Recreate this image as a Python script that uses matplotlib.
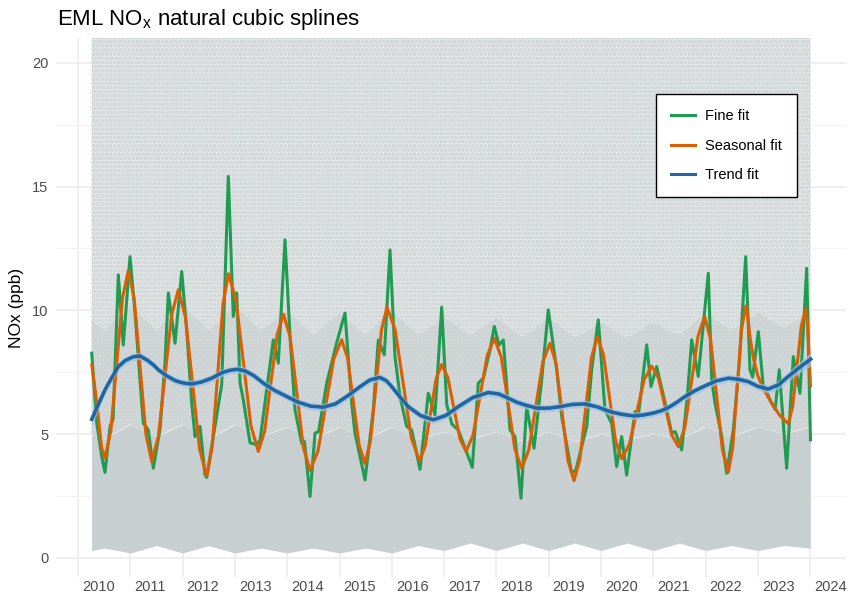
import matplotlib
matplotlib.use("Agg")
import matplotlib.pyplot as plt
import matplotlib.transforms as mtransforms
from matplotlib.lines import Line2D

plt.rcParams['font.family'] = ['Liberation Sans', 'DejaVu Sans']
plt.rcParams['mathtext.fontset'] = 'custom'
plt.rcParams['mathtext.rm'] = 'Liberation Sans'
plt.rcParams['hatch.linewidth'] = 2.0

# gray cloud of hourly data (envelope)
cloud_t = [2010.26, 2010.5, 2011.0, 2011.5, 2012.0, 2012.5, 2013.0, 2013.5, 2014.0, 2014.5,
           2015.0, 2015.5, 2016.0, 2016.5, 2017.0, 2017.5, 2018.0, 2018.5, 2019.0, 2019.5,
           2020.0, 2020.5, 2021.0, 2021.5, 2022.0, 2022.5, 2023.0, 2023.5, 2024.0]
cloud_low = [0.3, 0.4, 0.2, 0.5, 0.2, 0.5, 0.2, 0.4, 0.2, 0.4,
             0.2, 0.4, 0.2, 0.5, 0.3, 0.6, 0.3, 0.6, 0.3, 0.6,
             0.3, 0.6, 0.3, 0.6, 0.3, 0.5, 0.3, 0.5, 0.4]
cloud_dense = [5.0, 4.8, 5.4, 4.9, 5.4, 4.8, 5.4, 4.9, 5.3, 4.8,
               5.3, 4.8, 5.3, 4.8, 5.1, 4.8, 5.1, 4.7, 5.1, 4.7,
               5.0, 4.8, 5.0, 4.8, 5.3, 4.9, 5.3, 5.0, 5.3]
cloud_mid = [9.6, 9.2, 10.2, 9.2, 10.2, 9.2, 10.2, 9.2, 10.0, 9.0,
             9.9, 9.0, 10.0, 9.0, 9.7, 9.0, 9.7, 8.9, 9.7, 8.9,
             9.5, 8.9, 9.5, 9.0, 9.9, 9.2, 9.9, 9.3, 9.9]

# Fine fit
fine_t = [2010.262, 2010.358, 2010.453, 2010.516, 2010.612, 2010.670, 2010.771, 2010.866, 2010.994,
          2011.090, 2011.185, 2011.249, 2011.344, 2011.440, 2011.568, 2011.663, 2011.727, 2011.855, 2011.983,
          2012.078, 2012.174, 2012.237, 2012.333, 2012.428, 2012.461, 2012.587, 2012.748, 2012.874, 2012.969,
          2013.034, 2013.098, 2013.161, 2013.289, 2013.417, 2013.480, 2013.734, 2013.830, 2013.958,
          2014.054, 2014.149, 2014.277, 2014.330, 2014.436, 2014.532, 2014.600, 2014.755, 2014.946,
          2015.105, 2015.233, 2015.296, 2015.488, 2015.646, 2015.742, 2015.857, 2015.966,
          2016.061, 2016.157, 2016.285, 2016.380, 2016.539, 2016.698, 2016.826, 2016.954,
          2017.050, 2017.150, 2017.271, 2017.367, 2017.539, 2017.654, 2017.750, 2017.878, 2017.960,
          2018.050, 2018.132, 2018.260, 2018.356, 2018.470, 2018.579, 2018.719, 2018.866, 2018.992,
          2019.153, 2019.249, 2019.440, 2019.520, 2019.727, 2019.822, 2019.948,
          2020.076, 2020.204, 2020.300, 2020.396, 2020.491, 2020.650, 2020.713, 2020.874, 2020.956,
          2021.065, 2021.243, 2021.352, 2021.420, 2021.543, 2021.650, 2021.734, 2021.860,
          2022.052, 2022.117, 2022.180, 2022.300, 2022.403, 2022.530, 2022.650, 2022.767, 2022.849, 2022.900,
          2023.008, 2023.100, 2023.264, 2023.330, 2023.409, 2023.551, 2023.677, 2023.805, 2023.933, 2024.006]
fine_v = [8.27, 5.45, 4.10, 3.45, 5.30, 5.60, 11.43, 8.60, 12.17,
          9.90, 7.19, 5.44, 5.17, 3.62, 5.20, 7.87, 10.70, 8.67, 11.57,
          9.21, 6.25, 4.90, 5.31, 3.35, 3.25, 4.90, 7.00, 15.41, 9.75,
          10.70, 7.07, 6.38, 4.65, 4.57, 4.75, 8.81, 7.87, 12.85,
          8.94, 5.98, 4.63, 4.70, 2.48, 5.04, 5.10, 7.06, 8.69,
          9.89, 6.25, 5.04, 3.15, 5.98, 8.80, 8.20, 12.44,
          8.13, 6.52, 5.31, 5.17, 3.58, 6.65, 5.78, 10.13,
          6.20, 5.40, 5.17, 4.63, 3.66, 7.06, 7.26, 8.40, 9.35,
          8.60, 8.80, 5.17, 4.90, 2.41, 6.11, 4.43, 7.19, 10.02,
          7.60, 5.71, 3.42, 3.55, 5.31, 7.60, 9.62,
          5.98, 5.44, 3.69, 4.90, 3.35, 5.91, 5.71, 8.61, 6.92,
          7.73, 6.11, 5.04, 5.10, 4.36, 6.50, 8.81, 7.33,
          11.50, 7.19, 6.25, 5.00, 3.42, 5.17, 8.00, 12.17, 7.60, 7.30,
          9.14, 7.00, 6.25, 6.00, 7.60, 3.62, 8.13, 6.65, 11.70, 4.77]

# Seasonal fit
seas_t = [2010.262, 2010.330, 2010.390, 2010.450, 2010.516, 2010.628, 2010.739, 2010.851, 2010.962,
          2011.074, 2011.186, 2011.297, 2011.409, 2011.536, 2011.664, 2011.791, 2011.918,
          2012.054, 2012.190, 2012.325, 2012.461, 2012.565, 2012.670, 2012.774, 2012.878,
          2013.020, 2013.163, 2013.305, 2013.447, 2013.568, 2013.688, 2013.809, 2013.929,
          2014.056, 2014.183, 2014.309, 2014.436, 2014.588, 2014.739, 2014.891, 2015.042,
          2015.154, 2015.265, 2015.377, 2015.488, 2015.593, 2015.698, 2015.803, 2015.908,
          2016.064, 2016.219, 2016.375, 2016.530, 2016.636, 2016.742, 2016.848, 2016.954,
          2017.070, 2017.187, 2017.303, 2017.419, 2017.555, 2017.692, 2017.828, 2017.964,
          2018.094, 2018.224, 2018.354, 2018.484, 2018.619, 2018.755, 2018.890, 2019.025,
          2019.140, 2019.255, 2019.369, 2019.484, 2019.595, 2019.707, 2019.818, 2019.929,
          2020.046, 2020.163, 2020.279, 2020.396, 2020.539, 2020.683, 2020.826, 2020.969,
          2021.096, 2021.224, 2021.351, 2021.478, 2021.604, 2021.731, 2021.857, 2021.983,
          2022.096, 2022.209, 2022.321, 2022.434, 2022.518, 2022.602, 2022.685, 2022.769,
          2022.800, 2022.850, 2022.920, 2023.000, 2023.100, 2023.250, 2023.420, 2023.581,
          2023.664, 2023.748, 2023.831, 2023.914, 2023.945, 2023.975, 2024.006]
seas_v = [7.80, 6.75, 5.65, 4.45, 4.03, 5.14, 7.82, 10.50, 11.61,
          10.48, 7.75, 5.02, 3.89, 4.90, 7.36, 9.82, 10.83,
          9.73, 7.06, 4.39, 3.29, 4.49, 7.39, 10.28, 11.48,
          10.43, 7.89, 5.35, 4.30, 5.11, 7.07, 9.03, 9.84,
          8.92, 6.69, 4.46, 3.54, 4.31, 6.18, 8.04, 8.81,
          8.08, 6.31, 4.54, 3.81, 4.73, 6.97, 9.21, 10.13,
          9.22, 7.03, 4.83, 3.92, 4.49, 5.87, 7.24, 7.81,
          7.30, 6.06, 4.81, 4.30, 4.97, 6.59, 8.20, 8.87,
          8.10, 6.25, 4.39, 3.62, 4.36, 6.15, 7.93, 8.67,
          7.86, 5.90, 3.93, 3.12, 3.97, 6.03, 8.09, 8.94,
          8.22, 6.48, 4.73, 4.01, 4.56, 5.88, 7.20, 7.75,
          7.28, 6.13, 4.97, 4.50, 5.27, 7.12, 8.97, 9.74,
          8.82, 6.60, 4.38, 3.46, 4.44, 6.82, 9.20, 10.18,
          9.90, 8.90, 8.00, 7.35, 6.85, 6.30, 5.75, 5.42,
          6.10, 7.74, 9.37, 10.05, 9.50, 8.40, 6.95]

# Trend fit with its band
trend_t = [2010.262, 2010.400, 2010.516, 2010.650, 2010.771, 2010.900, 2011.050, 2011.185, 2011.330,
           2011.450, 2011.535, 2011.700, 2011.850, 2011.918, 2012.050, 2012.174, 2012.350, 2012.556,
           2012.750, 2012.906, 2013.050, 2013.200, 2013.370, 2013.543, 2013.750, 2013.990, 2014.200,
           2014.450, 2014.690, 2014.920, 2015.138, 2015.380, 2015.583, 2015.774, 2015.900, 2015.998,
           2016.150, 2016.315, 2016.550, 2016.793, 2017.030, 2017.271, 2017.550, 2017.845, 2018.050,
           2018.228, 2018.400, 2018.547, 2018.771, 2019.000, 2019.216, 2019.450, 2019.694, 2019.930,
           2020.172, 2020.400, 2020.618, 2020.800, 2021.000, 2021.160, 2021.319, 2021.460, 2021.606,
           2021.800, 2021.989, 2022.200, 2022.434, 2022.620, 2022.816, 2023.000, 2023.199, 2023.400,
           2023.581, 2023.800, 2024.010]
trend_v = [5.60, 6.25, 6.79, 7.30, 7.73, 7.97, 8.12, 8.16, 7.98,
           7.78, 7.60, 7.35, 7.17, 7.12, 7.05, 7.03, 7.10, 7.26,
           7.48, 7.58, 7.62, 7.55, 7.35, 7.06, 6.78, 6.52, 6.30,
           6.13, 6.09, 6.22, 6.52, 6.90, 7.19, 7.29, 7.15, 6.92,
           6.52, 6.11, 5.75, 5.58, 5.75, 6.11, 6.48, 6.68, 6.62,
           6.45, 6.28, 6.18, 6.05, 6.05, 6.11, 6.20, 6.22, 6.10,
           5.91, 5.80, 5.74, 5.77, 5.85, 5.95, 6.11, 6.30, 6.52,
           6.76, 6.95, 7.15, 7.26, 7.22, 7.12, 6.93, 6.82, 7.00,
           7.33, 7.70, 8.03]
trend_se = [0.28, 0.22, 0.19, 0.17, 0.16, 0.15, 0.15, 0.15, 0.15,
            0.15, 0.15, 0.15, 0.15, 0.15, 0.15, 0.15, 0.15, 0.15,
            0.15, 0.15, 0.15, 0.15, 0.15, 0.15, 0.15, 0.15, 0.15,
            0.15, 0.15, 0.15, 0.15, 0.15, 0.15, 0.15, 0.15, 0.15,
            0.15, 0.15, 0.15, 0.15, 0.15, 0.15, 0.15, 0.15, 0.15,
            0.15, 0.15, 0.15, 0.15, 0.15, 0.15, 0.15, 0.15, 0.15,
            0.15, 0.15, 0.15, 0.15, 0.15, 0.15, 0.15, 0.15, 0.15,
            0.15, 0.15, 0.15, 0.15, 0.15, 0.15, 0.15, 0.16, 0.17,
            0.19, 0.22, 0.28]

years = list(range(2010, 2025))
green = '#1f9c52'
orange = '#d95f02'
blue = '#1f66a3'
dot_gray = '#c8cfd0'

fig = plt.figure(figsize=(8.48, 5.97), dpi=100)
ax = fig.add_axes([56 / 848, 20 / 597, 790 / 848, 539 / 597])

# хмара точок: розріджена зверху, щільна знизу
ax.fill_between(cloud_t, cloud_mid, 22, facecolor='#e8ebeb', edgecolor=dot_gray,
                hatch='....', lw=0, zorder=1)
ax.fill_between(cloud_t, cloud_dense, cloud_mid, facecolor='#d9dede', edgecolor=dot_gray,
                hatch='.....', lw=0, zorder=1)
ax.fill_between(cloud_t, cloud_low, cloud_dense, color=dot_gray, lw=0, zorder=1)

# лінії
ax.plot(fine_t, fine_v, color=green, lw=2.2, zorder=3, solid_joinstyle='round')
ax.plot(seas_t, seas_v, color=orange, lw=2.2, zorder=4, solid_joinstyle='round')
lo = [v - s for v, s in zip(trend_v, trend_se)]
hi = [v + s for v, s in zip(trend_v, trend_se)]
ax.fill_between(trend_t, lo, hi, color='#9cc3e4', alpha=0.7, lw=0, zorder=5)
ax.plot(trend_t, trend_v, color=blue, lw=2.6, zorder=6, solid_joinstyle='round')

ax.set_xlim(2009.579, 2024.685)
ax.set_ylim(-0.77, 21.0)
ax.set_xticks(years)
ax.set_xticklabels([str(y) for y in years])
ax.set_yticks([0, 5, 10, 15, 20])
ax.set_yticks([2.5, 7.5, 12.5, 17.5], minor=True)
ax.grid(which='major', color='#ebebeb', lw=1.1)
ax.grid(which='minor', axis='y', color='#f2f2f2', lw=0.6)
ax.set_axisbelow(True)
for s in ax.spines.values():
    s.set_visible(False)
ax.tick_params(which='both', length=0, labelsize=10.5, labelcolor='#4d4d4d')
ax.tick_params(axis='x', pad=2)
ax.tick_params(axis='y', pad=5.5)
shift = mtransforms.ScaledTranslation(4 / 100, 0, fig.dpi_scale_trans)
for lab in ax.get_xticklabels():
    lab.set_horizontalalignment('left')
    lab.set_transform(lab.get_transform() + shift)

fig.text(17 / 848, 1 - 308 / 597, 'NOx (ppb)', rotation=90, ha='center', va='center', fontsize=12.5)
fig.text(57 / 848, 1 - 25 / 597, r'EML NO$_\mathrm{x}$ natural cubic splines', ha='left', va='baseline', fontsize=16)

handles = [Line2D([], [], color=green, lw=2.2),
           Line2D([], [], color=orange, lw=2.2),
           Line2D([], [], color=blue, lw=2.2)]
leg = ax.legend(handles, ['Fine fit', 'Seasonal fit', 'Trend fit'], loc='upper right',
                bbox_to_anchor=(797 / 848, 1 - 94 / 597), bbox_transform=fig.transFigure,
                fontsize=10.5, frameon=True, fancybox=False, framealpha=1, edgecolor='black',
                borderpad=1.05, labelspacing=1.05, handlelength=1.6, handletextpad=0.7,
                borderaxespad=0)
leg.get_frame().set_linewidth(1.0)
leg.set_zorder(10)

fig.savefig('out.png', dpi=100)
